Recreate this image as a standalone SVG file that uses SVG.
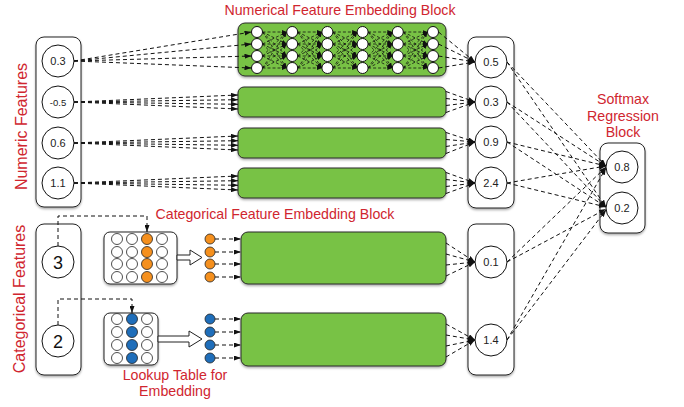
<svg xmlns="http://www.w3.org/2000/svg" xmlns:xlink="http://www.w3.org/1999/xlink" width="684" height="407" viewBox="0 0 684 407">
  <defs>
    <style>
      .lbl { font-family: "Liberation Sans", Arial, sans-serif; font-size: 14.2px; fill: #d0262f; text-anchor: middle; }
      .side { font-family: "Liberation Sans", Arial, sans-serif; font-size: 16px; fill: #d0262f; text-anchor: middle; }
      .num { font-family: "Liberation Sans", Arial, sans-serif; font-size: 11px; fill: #222; text-anchor: middle; }
      .big { font-family: "Liberation Sans", Arial, sans-serif; font-size: 18px; fill: #111; text-anchor: middle; }
      .box { fill: #fff; stroke: #222; stroke-width: 1; }
      .node { fill: #fff; stroke: #111; stroke-width: 1; }
      .blk { fill: #78c244; stroke: #2a2a2a; stroke-width: 1; }
      .neu { fill: #fff; stroke: #111; stroke-width: 1; }
      .dash { fill: none; stroke: #111; stroke-width: 1; stroke-dasharray: 4 3; marker-end: url(#ah); }
      .nn { fill: none; stroke: #111; stroke-width: 0.8; stroke-dasharray: 3 2; marker-end: url(#ahs); }
      .hollow { fill: #fff; stroke: #222; stroke-width: 1; }
      .org { fill: #f5901e; stroke: #222; stroke-width: 0.8; }
      .blu { fill: #1f6eba; stroke: #222; stroke-width: 0.8; }
      .wht { fill: #fff; stroke: #222; stroke-width: 0.8; }
    </style>
    <marker id="ah" viewBox="0 0 7 5" refX="7" refY="2.5" markerWidth="7" markerHeight="5" markerUnits="userSpaceOnUse" orient="auto">
      <path d="M0,0 L7,2.5 L0,5 z" fill="#111"/>
    </marker>
    <marker id="ahs" viewBox="0 0 5 4" refX="5" refY="2" markerWidth="5" markerHeight="4" markerUnits="userSpaceOnUse" orient="auto">
      <path d="M0,0 L5,2 L0,4 z" fill="#111"/>
    </marker>
    <filter id="sh" x="-10%" y="-10%" width="120%" height="130%">
      <feDropShadow dx="0" dy="1.5" stdDeviation="1" flood-color="#000" flood-opacity="0.35"/>
    </filter>
    <!-- all-to-all links between two neighbouring neuron columns -->
    <g id="gap">
      <path class="nn" d="M262.5,32 L286.7,32"/>
      <path class="nn" d="M262.5,32 L286.7,44"/>
      <path class="nn" d="M262.5,32 L286.7,56"/>
      <path class="nn" d="M262.5,32 L286.7,68"/>
      <path class="nn" d="M262.5,44 L286.7,32"/>
      <path class="nn" d="M262.5,44 L286.7,44"/>
      <path class="nn" d="M262.5,44 L286.7,56"/>
      <path class="nn" d="M262.5,44 L286.7,68"/>
      <path class="nn" d="M262.5,56 L286.7,32"/>
      <path class="nn" d="M262.5,56 L286.7,44"/>
      <path class="nn" d="M262.5,56 L286.7,56"/>
      <path class="nn" d="M262.5,56 L286.7,68"/>
      <path class="nn" d="M262.5,68 L286.7,32"/>
      <path class="nn" d="M262.5,68 L286.7,44"/>
      <path class="nn" d="M262.5,68 L286.7,56"/>
      <path class="nn" d="M262.5,68 L286.7,68"/>
    </g>
    <g id="col">
      <circle class="neu" cx="257" cy="32" r="5.5"/>
      <circle class="neu" cx="257" cy="44" r="5.5"/>
      <circle class="neu" cx="257" cy="56" r="5.5"/>
      <circle class="neu" cx="257" cy="68" r="5.5"/>
    </g>
  </defs>

  <!-- headings -->
  <text class="lbl" x="340" y="15">Numerical Feature Embedding Block</text>
  <text class="lbl" x="275" y="219">Categorical Feature Embedding Block</text>
  <text class="lbl" x="623" y="104">Softmax</text>
  <text class="lbl" x="623" y="120.5">Regression</text>
  <text class="lbl" x="623" y="137">Block</text>
  <text class="lbl" x="175" y="380">Lookup Table for</text>
  <text class="lbl" x="175" y="396">Embedding</text>
  <text class="side" transform="translate(26.5,126.5) rotate(-90)">Numeric Features</text>
  <text class="side" transform="translate(25,299) rotate(-90)">Categorical Features</text>

  <!-- numeric inputs -->
  <g id="numeric-inputs">
    <rect class="box" x="36" y="37" width="45" height="170" rx="8" filter="url(#sh)"/>
    <circle class="node" cx="58" cy="61" r="16"/>
    <text class="num" x="58" y="65">0.3</text>
    <circle class="node" cx="58" cy="102" r="16"/>
    <text class="num" x="58" y="105.5" style="font-size:9.5px">-0.5</text>
    <circle class="node" cx="58" cy="143" r="16"/>
    <text class="num" x="58" y="147">0.6</text>
    <circle class="node" cx="58" cy="183" r="16"/>
    <text class="num" x="58" y="187">1.1</text>
  </g>

  <!-- categorical inputs -->
  <g id="categorical-inputs">
    <rect class="box" x="36" y="224" width="45" height="151" rx="8" filter="url(#sh)"/>
    <circle class="node" cx="58" cy="262" r="16"/>
    <text class="big" x="58" y="268.5">3</text>
    <circle class="node" cx="58" cy="341" r="16"/>
    <text class="big" x="58" y="347.5">2</text>
  </g>

  <!-- numerical embedding blocks -->
  <g id="num-block-1">
    <rect class="blk" x="238" y="23" width="208" height="53" rx="7" filter="url(#sh)"/>
  </g>
  <g id="num-block-2">
    <rect class="blk" x="238" y="87" width="208" height="30" rx="6" filter="url(#sh)"/>
  </g>
  <g id="num-block-3">
    <rect class="blk" x="238" y="128" width="208" height="30" rx="6" filter="url(#sh)"/>
  </g>
  <g id="num-block-4">
    <rect class="blk" x="238" y="168" width="208" height="30" rx="6" filter="url(#sh)"/>
  </g>

  <!-- categorical embedding blocks -->
  <g id="cat-block-1">
    <rect class="blk" x="241" y="232" width="205" height="52" rx="7" filter="url(#sh)"/>
  </g>
  <g id="cat-block-2">
    <rect class="blk" x="241" y="313" width="205" height="53" rx="7" filter="url(#sh)"/>
  </g>

  <!-- lookup tables -->
  <g id="lookup-1">
    <rect class="box" x="104" y="232" width="73" height="52" rx="6" filter="url(#sh)"/>
    <g>
      <circle class="wht" cx="117" cy="239" r="5.5"/><circle class="wht" cx="132" cy="239" r="5.5"/><circle class="org" cx="147" cy="239" r="5.5"/><circle class="wht" cx="162" cy="239" r="5.5"/>
      <circle class="wht" cx="117" cy="252" r="5.5"/><circle class="wht" cx="132" cy="252" r="5.5"/><circle class="org" cx="147" cy="252" r="5.5"/><circle class="wht" cx="162" cy="252" r="5.5"/>
      <circle class="wht" cx="117" cy="264" r="5.5"/><circle class="wht" cx="132" cy="264" r="5.5"/><circle class="org" cx="147" cy="264" r="5.5"/><circle class="wht" cx="162" cy="264" r="5.5"/>
      <circle class="wht" cx="117" cy="277" r="5.5"/><circle class="wht" cx="132" cy="277" r="5.5"/><circle class="org" cx="147" cy="277" r="5.5"/><circle class="wht" cx="162" cy="277" r="5.5"/>
    </g>
    <polygon class="hollow" points="177,255 190,255 190,250 202,257.5 190,265 190,260 177,260"/>
  </g>
  <g id="lookup-2">
    <rect class="box" x="104" y="313" width="54" height="52" rx="6" filter="url(#sh)"/>
    <g>
      <circle class="wht" cx="117" cy="319" r="5.5"/><circle class="blu" cx="132" cy="319" r="5.5"/><circle class="wht" cx="147" cy="319" r="5.5"/>
      <circle class="wht" cx="117" cy="332" r="5.5"/><circle class="blu" cx="132" cy="332" r="5.5"/><circle class="wht" cx="147" cy="332" r="5.5"/>
      <circle class="wht" cx="117" cy="345" r="5.5"/><circle class="blu" cx="132" cy="345" r="5.5"/><circle class="wht" cx="147" cy="345" r="5.5"/>
      <circle class="wht" cx="117" cy="358" r="5.5"/><circle class="blu" cx="132" cy="358" r="5.5"/><circle class="wht" cx="147" cy="358" r="5.5"/>
    </g>
    <polygon class="hollow" points="158,336 189,336 189,331 202,339 189,347 189,342 158,342"/>
  </g>

  <!-- embedding vectors -->
  <g id="vector-1">
    <circle class="org" cx="210" cy="239" r="5"/>
    <circle class="org" cx="210" cy="252" r="5"/>
    <circle class="org" cx="210" cy="264" r="5"/>
    <circle class="org" cx="210" cy="277" r="5"/>
  </g>
  <g id="vector-2">
    <circle class="blu" cx="210" cy="319" r="5"/>
    <circle class="blu" cx="210" cy="332" r="5"/>
    <circle class="blu" cx="210" cy="345" r="5"/>
    <circle class="blu" cx="210" cy="358" r="5"/>
  </g>

  <!-- intermediate outputs -->
  <g id="num-outputs">
    <rect class="box" x="468" y="37" width="46" height="171" rx="8" filter="url(#sh)"/>
    <circle class="node" cx="491" cy="62" r="16"/>
    <text class="num" x="491" y="66">0.5</text>
    <circle class="node" cx="491" cy="102" r="16"/>
    <text class="num" x="491" y="106">0.3</text>
    <circle class="node" cx="491" cy="142" r="16"/>
    <text class="num" x="491" y="146">0.9</text>
    <circle class="node" cx="491" cy="183" r="16"/>
    <text class="num" x="491" y="187">2.4</text>
  </g>
  <g id="cat-outputs">
    <rect class="box" x="468" y="224" width="46" height="151" rx="8" filter="url(#sh)"/>
    <circle class="node" cx="491" cy="262" r="16"/>
    <text class="num" x="491" y="266">0.1</text>
    <circle class="node" cx="491" cy="340" r="16"/>
    <text class="num" x="491" y="344">1.4</text>
  </g>

  <!-- softmax -->
  <g id="softmax">
    <rect class="box" x="600" y="143" width="45" height="90" rx="8" filter="url(#sh)"/>
    <circle class="node" cx="622" cy="167" r="16"/>
    <text class="num" x="622" y="171">0.8</text>
    <circle class="node" cx="622" cy="208" r="16"/>
    <text class="num" x="622" y="212">0.2</text>
  </g>

  <!-- connectors -->
  <g id="connectors">
    <!-- hidden-layer links inside the first block -->
    <use xlink:href="#gap"/>
    <use xlink:href="#gap" transform="translate(35.2,0)"/>
    <use xlink:href="#gap" transform="translate(70.4,0)"/>
    <use xlink:href="#gap" transform="translate(105.6,0)"/>
    <use xlink:href="#gap" transform="translate(140.8,0)"/>

    <!-- numeric inputs into blocks -->
    <path class="dash" d="M74,61 L251.5,32"/>
    <path class="dash" d="M74,61 L251.5,44"/>
    <path class="dash" d="M74,61 L251.5,56"/>
    <path class="dash" d="M74,61 L251.5,68"/>
    <path class="dash" d="M74,102 L238,95"/>
    <path class="dash" d="M74,102 L238,99.7"/>
    <path class="dash" d="M74,102 L238,104.3"/>
    <path class="dash" d="M74,102 L238,109"/>
    <path class="dash" d="M74,143 L238,136"/>
    <path class="dash" d="M74,143 L238,140.7"/>
    <path class="dash" d="M74,143 L238,145.3"/>
    <path class="dash" d="M74,143 L238,150"/>
    <path class="dash" d="M74,183 L238,176"/>
    <path class="dash" d="M74,183 L238,180.7"/>
    <path class="dash" d="M74,183 L238,185.3"/>
    <path class="dash" d="M74,183 L238,190"/>

    <!-- category index into lookup tables -->
    <path class="dash" d="M58,246 L58,216 L147,216 L147,232"/>
    <path class="dash" d="M58,325 L58,299 L132,299 L132,313"/>

    <!-- embedding vectors into blocks -->
    <path class="dash" d="M215,239 L241,239"/>
    <path class="dash" d="M215,252 L241,252"/>
    <path class="dash" d="M215,264 L241,264"/>
    <path class="dash" d="M215,277 L241,277"/>
    <path class="dash" d="M215,319 L241,319"/>
    <path class="dash" d="M215,332 L241,332"/>
    <path class="dash" d="M215,345 L241,345"/>
    <path class="dash" d="M215,358 L241,358"/>

    <!-- blocks into outputs -->
    <path class="dash" d="M438.5,32 L475,62"/>
    <path class="dash" d="M438.5,44 L475,62"/>
    <path class="dash" d="M438.5,56 L475,62"/>
    <path class="dash" d="M438.5,68 L475,62"/>
    <path class="dash" d="M446,91.5 L475,102"/>
    <path class="dash" d="M446,98.5 L475,102"/>
    <path class="dash" d="M446,105.5 L475,102"/>
    <path class="dash" d="M446,112.5 L475,102"/>
    <path class="dash" d="M446,132.5 L475,142"/>
    <path class="dash" d="M446,139.5 L475,142"/>
    <path class="dash" d="M446,146.5 L475,142"/>
    <path class="dash" d="M446,153.5 L475,142"/>
    <path class="dash" d="M446,172.5 L475,183"/>
    <path class="dash" d="M446,179.5 L475,183"/>
    <path class="dash" d="M446,186.5 L475,183"/>
    <path class="dash" d="M446,193.5 L475,183"/>
    <path class="dash" d="M446,243 L475,262"/>
    <path class="dash" d="M446,254 L475,262"/>
    <path class="dash" d="M446,265 L475,262"/>
    <path class="dash" d="M446,276 L475,262"/>
    <path class="dash" d="M446,324 L475,340"/>
    <path class="dash" d="M446,335 L475,340"/>
    <path class="dash" d="M446,346 L475,340"/>
    <path class="dash" d="M446,357 L475,340"/>

    <!-- outputs into softmax -->
    <path class="dash" d="M507,62 L606,166"/>
    <path class="dash" d="M507,62 L606,207"/>
    <path class="dash" d="M507,102 L606,166"/>
    <path class="dash" d="M507,102 L606,207"/>
    <path class="dash" d="M507,142 L606,166"/>
    <path class="dash" d="M507,142 L606,207"/>
    <path class="dash" d="M507,183 L606,166"/>
    <path class="dash" d="M507,183 L606,207"/>
    <path class="dash" d="M507,262 L606,167"/>
    <path class="dash" d="M507,262 L606,209"/>
    <path class="dash" d="M507,340 L606,168"/>
    <path class="dash" d="M507,340 L606,210"/>
  </g>

  <!-- neurons drawn over their links -->
  <g id="neurons">
    <use xlink:href="#col"/>
    <use xlink:href="#col" transform="translate(35.2,0)"/>
    <use xlink:href="#col" transform="translate(70.4,0)"/>
    <use xlink:href="#col" transform="translate(105.6,0)"/>
    <use xlink:href="#col" transform="translate(140.8,0)"/>
    <use xlink:href="#col" transform="translate(176,0)"/>
  </g>
</svg>
